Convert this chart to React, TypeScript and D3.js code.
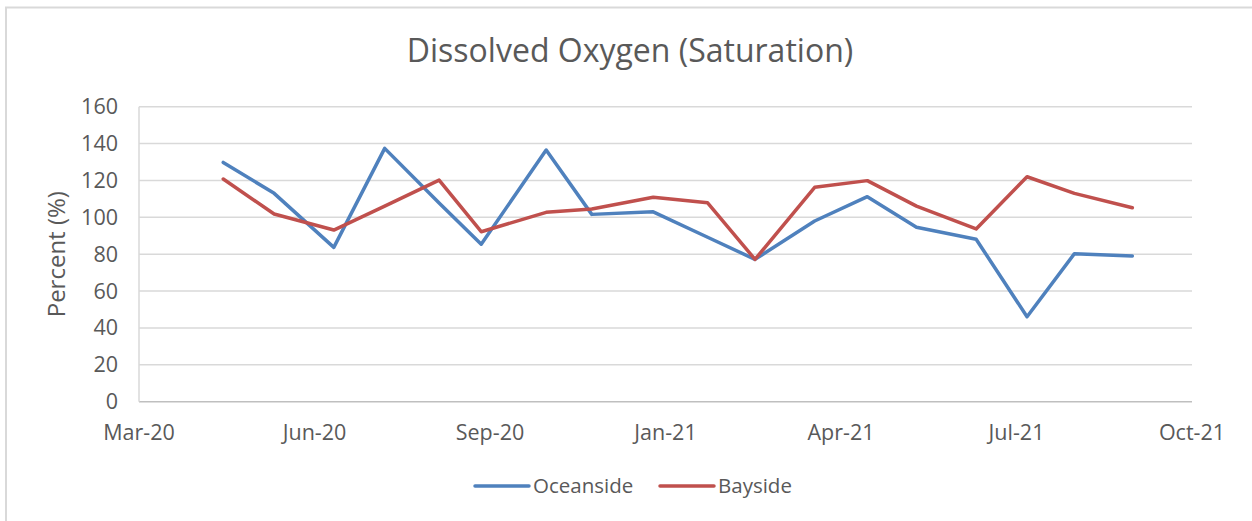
import React from "react";
import * as d3 from "d3";

// sampling dates
const sampleDates = [
  "2020-04-27", "2020-05-26", "2020-06-29", "2020-07-28", "2020-08-28",
  "2020-09-21", "2020-10-28", "2020-11-23", "2020-12-28", "2021-01-28",
  "2021-02-24", "2021-03-30", "2021-04-29", "2021-05-27", "2021-06-30",
  "2021-07-29", "2021-08-25", "2021-09-27",
];
const oceanside = [
  129.8, 113.0, 83.7, 137.4, 107.8, 85.4, 136.5, 101.6, 103.0, 89.2,
  77.2, 98.0, 111.2, 94.6, 88.1, 46.1, 80.3, 79.0,
];
const bayside = [
  120.8, 101.8, 93.1, 106.1, 120.2, 92.2, 102.7, 104.5, 110.9, 107.9,
  77.2, 116.3, 119.9, 106.1, 93.7, 122.0, 113.0, 105.2,
];
const yTicks = [0, 20, 40, 60, 80, 100, 120, 140, 160];
// Excel date axis: min serial 43900, major unit 100 days
const axisStart = "2020-03-10";
const axisDays = 600;
const tickStep = 100;

const W = 1252;
const H = 521;
const plot = { left: 139, right: 1192, top: 106.7, bottom: 401.7 };
const font = "'Open Sans', Calibri, sans-serif";
const textColor = "#595959";

const parse = d3.timeParse("%Y-%m-%d");
const fmt = d3.timeFormat("%b-%y");

const series = [
  { name: "Oceanside", color: "#4F81BD", values: oceanside },
  { name: "Bayside", color: "#C0504D", values: bayside },
];

export default function App() {
  const start = parse(axisStart) as Date;
  const end = d3.timeDay.offset(start, axisDays);
  const x = d3.scaleTime().domain([start, end]).range([plot.left, plot.right]);
  const y = d3.scaleLinear().domain([0, 160]).range([plot.bottom, plot.top]);
  const xTicks = d3.range(0, axisDays + 1, tickStep).map((d) => d3.timeDay.offset(start, d));
  const dates = sampleDates.map((d) => parse(d) as Date);

  const line = d3
    .line<number>()
    .x((_, i) => x(dates[i]))
    .y((d) => y(d));

  return (
    <svg
      width={W}
      height={H}
      style={{ position: "absolute", left: 0, top: 0, background: "#fff" }}
    >
      <rect x={6} y={7.5} width={1300} height={600} fill="#fff" stroke="#d9d9d9" strokeWidth={2} />

      <text x={630} y={62} textAnchor="middle" fontFamily={font} fontSize={32} fill={textColor}>
        Dissolved Oxygen (Saturation)
      </text>

      {/* gridlines */}
      {yTicks.map((t) => (
        <line
          key={t}
          x1={plot.left}
          x2={plot.right}
          y1={y(t)}
          y2={y(t)}
          stroke={t === 0 ? "#bfbfbf" : "#d9d9d9"}
          strokeWidth={1.5}
        />
      ))}
      <line x1={plot.left} x2={plot.left} y1={plot.top} y2={plot.bottom} stroke="#d9d9d9" strokeWidth={1.5} />

      {/* y tick labels */}
      {yTicks.map((t) => (
        <text
          key={t}
          x={118}
          y={y(t)}
          dy="0.35em"
          textAnchor="end"
          fontFamily={font}
          fontSize={21.5}
          fill={textColor}
        >
          {t}
        </text>
      ))}

      {/* x tick labels */}
      {xTicks.map((t, i) => (
        <text
          key={i}
          x={x(t)}
          y={440}
          textAnchor="middle"
          fontFamily={font}
          fontSize={21.5}
          fill={textColor}
        >
          {fmt(t)}
        </text>
      ))}

      <text
        transform={`translate(65, ${(plot.top + plot.bottom) / 2}) rotate(-90)`}
        textAnchor="middle"
        fontFamily={font}
        fontSize={24}
        fill={textColor}
      >
        Percent (%)
      </text>

      {series.map((s) => (
        <path
          key={s.name}
          d={line(s.values) || ""}
          fill="none"
          stroke={s.color}
          strokeWidth={3.5}
          strokeLinejoin="round"
          strokeLinecap="round"
        />
      ))}

      {/* legend */}
      {series.map((s, i) => {
        const lx = i === 0 ? 475 : 660;
        return (
          <g key={s.name}>
            <line x1={lx} x2={lx + 54} y1={486} y2={486} stroke={s.color} strokeWidth={3.5} strokeLinecap="round" />
            <text x={lx + 58} y={486} dy="0.35em" fontFamily={font} fontSize={20.5} fill={textColor}>
              {s.name}
            </text>
          </g>
        );
      })}
    </svg>
  );
}
